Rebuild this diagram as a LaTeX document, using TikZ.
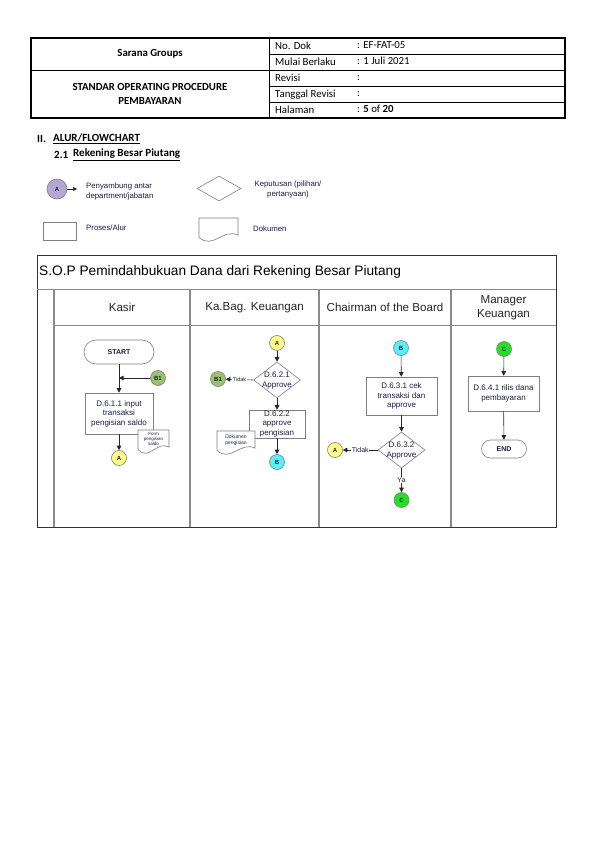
\documentclass[tikz,border=0pt]{standalone}
\usepackage{fontspec}
\setmainfont{Carlito}
\newfontfamily\arial{Liberation Sans}
\usetikzlibrary{arrows.meta,shapes.geometric}
\definecolor{lav}{HTML}{B4A7D6}
\definecolor{ylw}{HTML}{FFFF88}
\definecolor{olv}{HTML}{9CC26A}
\definecolor{cyn}{HTML}{55F0F8}
\definecolor{grn}{HTML}{22E022}
\definecolor{shp}{HTML}{7F7F7F}
\definecolor{txt}{HTML}{1C1C48}
\definecolor{lanec}{HTML}{8A8A8A}
\newcommand{\docpath}[4]{% x1 y1 x2 y2
  \pgfmathsetmacro{\dw}{#3-#1}\pgfmathsetmacro{\dh}{#4-#2}
  \draw[draw=shp,line width=0.6pt,fill=white] (#1,#2) -- (#3,#2) -- (#3,#4-0.22*\dh)
    .. controls (#1+0.62*\dw,#4-0.55*\dh) and (#1+0.35*\dw,#4+0.45*\dh) .. (#1,#4-0.12*\dh) -- cycle;}
\begin{document}
\begin{tikzpicture}[x=1pt,y=-1pt,
  hd/.style={font=\fontsize{10.8}{12}\selectfont, anchor=base west, inner sep=0},
  hb/.style={font=\bfseries\fontsize{10.8}{13.5}\selectfont, align=center, inner sep=0},
  sec/.style={font=\bfseries\fontsize{11}{13}\selectfont, anchor=west, inner sep=0},
  lg/.style={font=\arial\fontsize{7.8}{10}\selectfont, text=txt, inner sep=0},
  conn/.style={circle, draw=shp, line width=0.6pt, minimum size=15pt, inner sep=0, font=\arial\bfseries\fontsize{6}{6}\selectfont, text=txt},
  proc/.style={rectangle, draw=shp, line width=0.6pt, fill=white, align=center, inner sep=0, font=\arial\fontsize{8}{9.5}\selectfont, text=txt},
  term/.style={rectangle, rounded corners=9pt, draw=shp, line width=0.6pt, inner sep=0, font=\arial\bfseries\fontsize{7}{8}\selectfont, text=txt},
  dec/.style={diamond, draw=shp, line width=0.6pt, fill=white, inner sep=0},
  dtext/.style={align=center, inner sep=0, font=\arial\fontsize{8}{10}\selectfont, text=txt},
  small/.style={align=center, inner sep=0, text=txt},
  lbl/.style={fill=white, inner sep=0.6pt, font=\arial\fontsize{5.5}{6}\selectfont, text=txt},
  flow/.style={-{Triangle[length=4.5pt,width=4.5pt]}, draw=black!85, line width=0.6pt},
  lanetxt/.style={font=\arial\fontsize{11.6}{14}\selectfont, align=center, inner sep=0, text=black!85},
]
\path[use as bounding box, fill=white] (0,0) rectangle (595,842);

% ---------- header table ----------
\draw[line width=0.5pt] (269,38) -- (269,118);
\draw[line width=0.5pt] (31,70) -- (269,70);
\foreach \yy in {54,70,86,102} \draw[line width=0.5pt] (269,\yy) -- (565,\yy);
\draw[line width=1.3pt] (31,38) rectangle (565,118);

\node[hb] (sg) at (150,54) {Sarana Groups};
\node[hb] (sop) at (150,94) {STANDAR OPERATING PROCEDURE\\PEMBAYARAN};
\node[hd] (k1) at (275,49.8) {No. Dok};
\node[hd] (k2) at (275,65.8) {Mulai Berlaku};
\node[hd] (k3) at (275,81.8) {Revisi};
\node[hd] (k4) at (275,97.8) {Tanggal Revisi};
\node[hd] (k5) at (275,113.8) {Halaman};
\node[hd] (v1) at (357,48.5) {: EF-FAT-05};
\node[hd] (v2) at (357,64.5) {: 1 Juli 2021};
\node[hd] (v3) at (357,80.5) {:};
\node[hd] (v4) at (357,96.5) {:};
\node[hd] (v5) at (357,112.5) {: \textbf{5} of \textbf{20}};

% ---------- section headings ----------
\node[sec] (s1a) at (37,139) {II.};
\node[sec] (s1b) at (53,139) {\underline{ALUR/FLOWCHART}};
\node[sec] (s2a) at (54,155) {2.1};
\node[sec] (s2b) at (73,155) {\underline{Rekening Besar Piutang}};

% ---------- legend ----------
\node[conn, fill=lav, minimum size=20pt] (lgA) at (57,189) {A};
\coordinate (lgAe) at (77,189);
\draw[-{Triangle[length=4pt,width=4pt]}, draw=black!85, line width=0.6pt] (lgA) -- (lgAe);
\node[lg, anchor=west, align=left] (lgt1) at (86,191) {Penyambung antar\\department/jabatan};
\node[dec, minimum width=44pt, minimum height=25pt] (lgD) at (219,188.5) {};
\node[lg, align=center] (lgt2) at (288,189) {Keputusan (pilihan/\\pertanyaan)};
\node[rectangle, draw=shp, line width=0.6pt, minimum width=33pt, minimum height=18pt, inner sep=0] (lgR) at (59.5,231) {};
\node[lg, anchor=west] (lgt3) at (86,228) {Proses/Alur};
\docpath{199}{218}{238}{240}
\node[lg, anchor=west] (lgt4) at (253,229) {Dokumen};

% ---------- main frame ----------
\draw[line width=0.6pt, draw=black!80] (37,255) rectangle (556,527);
\draw[line width=1pt, draw=lanec] (37,289) -- (556,289);
\draw[line width=1pt, draw=lanec] (54,325) -- (556,325);
\foreach \xx in {54,190,319,451} \draw[line width=1.3pt, draw=lanec] (\xx,289) -- (\xx,527);
\node[anchor=west, inner sep=0, font=\arial\fontsize{13.7}{15}\selectfont] (title) at (39,271.5) {S.O.P Pemindahbukuan Dana dari Rekening Besar Piutang};
\node[lanetxt] (h1) at (122,307.5) {Kasir};
\node[lanetxt] (h2) at (254.5,307.5) {Ka.Bag. Keuangan};
\node[lanetxt] (h3) at (385,307.5) {Chairman of the Board};
\node[lanetxt] (h4) at (503.5,307.5) {Manager\\Keuangan};

% ---------- Kasir lane ----------
\node[term, minimum width=70pt, minimum height=24pt, rounded corners=12pt] (start) at (119,352) {START};
\node[conn, fill=olv] (b1a) at (158,378) {B1};
\coordinate (j1) at (119,378);
\node[proc, minimum width=68pt, minimum height=41pt] (r1) at (119,413.5) {D.6.1.1 input\\transaksi\\pengisian saldo};
\node[conn, fill=ylw] (a1) at (119,458) {A};
\draw[flow] (start) -- (r1);
\draw[flow] (b1a) -- (j1);
\draw[flow] (r1) -- (a1);
\docpath{138}{430}{169}{452}
\node[small, font=\arial\fontsize{4.5}{5}\selectfont] (f1) at (153.5,439) {Form\\pengisian\\saldo};

% ---------- Ka.Bag lane ----------
\node[conn, fill=ylw] (a2) at (277,343) {A};
\node[dec, minimum width=47pt, minimum height=36pt] (d1) at (277,380) {};
\node[dtext] (d1t) at (277,381) {D.6.2.1\\Approve};
\node[conn, fill=olv] (b1b) at (218,379) {B1};
\node[proc, minimum width=56pt, minimum height=28pt] (r2) at (277,424) {D.6.2.2\\approve\\pengisian};
\node[conn, fill=cyn] (bb) at (277,462) {B};
\draw[flow] (a2) -- (d1);
\draw[flow] (d1.west) -- node[lbl] (t1) {Tidak} (b1b);
\draw[flow] (d1) -- (r2);
\draw[flow] (r2) -- (bb);
\docpath{217}{431}{255}{453}
\node[small, font=\arial\fontsize{5}{6}\selectfont] (f2) at (236,440) {Dokumen\\pengisian};

% ---------- Chairman lane ----------
\node[conn, fill=cyn] (b2) at (401,348) {B};
\node[proc, minimum width=71pt, minimum height=38pt] (r3) at (401.5,396) {D.6.3.1 cek\\transaksi dan\\approve};
\node[dec, minimum width=47pt, minimum height=36pt] (d2) at (401.5,450) {};
\node[dtext] (d2t) at (401.5,451) {D.6.3.2\\Approve};
\node[conn, fill=ylw] (a3) at (335,450) {A};
\node[conn, fill=grn] (c1) at (401.5,500) {C};
\draw[flow] (b2) -- (r3);
\draw[flow] (r3) -- (d2);
\draw[flow] (d2.west) -- node[lbl, font=\arial\fontsize{7}{8}\selectfont] (t2) {Tidak} (a3);
\draw[flow] (d2.south) -- node[lbl, font=\arial\fontsize{7}{8}\selectfont] (ya) {Ya} (c1);

% ---------- Manager lane ----------
\node[conn, fill=grn] (c2) at (504,349) {C};
\node[proc, minimum width=71pt, minimum height=35pt] (r4) at (503.5,393.5) {D.6.4.1 rilis dana\\pembayaran};
\node[term, minimum width=45pt, minimum height=18pt] (end) at (504,449) {END};
\draw[flow] (c2) -- (r4);
\draw[flow] (r4) -- (end);
\end{tikzpicture}
\end{document}
